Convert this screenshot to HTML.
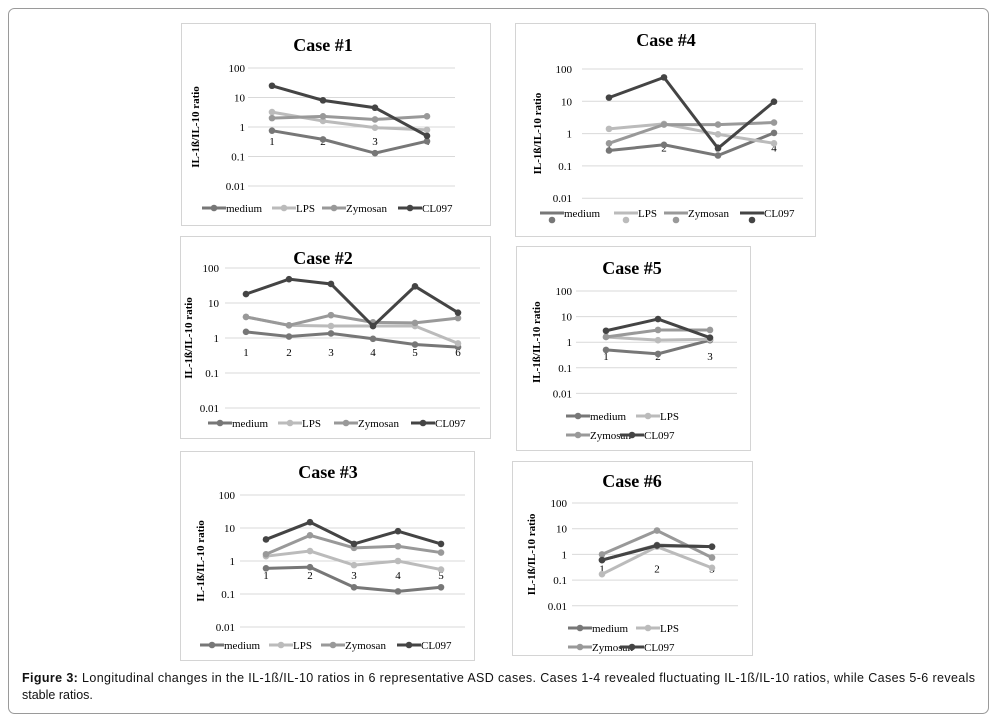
<!DOCTYPE html>
<html><head><meta charset="utf-8"><style>
body{margin:0;background:#fff;width:999px;height:721px;overflow:hidden}
svg{position:absolute;left:0;top:0}
</style></head><body>
<svg id="s" width="999" height="721" xmlns="http://www.w3.org/2000/svg">
<rect x="8.5" y="8.5" width="980" height="705" rx="6" fill="#fff" stroke="#9a9a9a"/>
<text x="22" y="682" textLength="953" lengthAdjust="spacing" font-family="Liberation Sans, sans-serif" font-size="12.5" fill="#111"><tspan font-weight="bold">Figure 3:</tspan> Longitudinal changes in the IL-1ß/IL-10 ratios in 6 representative ASD cases.  Cases 1-4 revealed fluctuating IL-1ß/IL-10 ratios, while Cases 5-6 reveals</text>
<text x="22" y="699" font-family="Liberation Sans, sans-serif" font-size="12.5" fill="#111">stable ratios.</text>
</svg>
<script>
const s=document.getElementById('s');const NS='http://www.w3.org/2000/svg';
function el(t,a,txt){const e=document.createElementNS(NS,t);for(const k in a)e.setAttribute(k,a[k]);if(txt!==undefined)e.textContent=txt;s.appendChild(e);return e;}
const col=['#777','#bbb','#999','#444'];const names=['medium','LPS','Zymosan','CL097'];
const F='Liberation Serif, serif';
function chart(c){
 el('rect',{x:c.bx+.5,y:c.by+.5,width:c.bw,height:c.bh,fill:'#fff',stroke:'#d4d4d4'});
 el('text',{x:c.tx,y:c.ty,'text-anchor':'middle','font-family':F,'font-size':18,'font-weight':'bold'},c.title);
 const labs=['100','10','1','0.1','0.01'];
 for(let i=0;i<5;i++){const y=c.y100+i*c.dy;
  el('line',{x1:c.gx1,x2:c.gx2,y1:y,y2:y,stroke:'#d9d9d9','stroke-width':1});
  el('text',{x:c.lx,y:y+4,'text-anchor':'end','font-family':F,'font-size':11},labs[i]);}
 const y1=c.y100+2*c.dy;
 el('text',{transform:`translate(${c.ax},${y1}) rotate(-90)`,'text-anchor':'middle','font-family':F,'font-size':11,'font-weight':'bold'},'IL-1ß/IL-10 ratio');
 c.xs.forEach((x,i)=>el('text',{x:x,y:y1+18,'text-anchor':'middle','font-family':F,'font-size':11},String(i+1)));
 const Y=v=>y1-Math.log10(v)*c.dy;
 c.d.forEach((arr,k)=>{
  el('polyline',{points:arr.map((v,i)=>c.xs[i]+','+Y(v)).join(' '),fill:'none',stroke:col[k],'stroke-width':3});
  arr.forEach((v,i)=>el('circle',{cx:c.xs[i],cy:Y(v),r:3.3,fill:col[k]}));
 });
 c.leg.forEach((p,k)=>{
  el('line',{x1:p[0],x2:p[0]+24,y1:p[1],y2:p[1],stroke:col[k],'stroke-width':3});
  el('circle',{cx:p[0]+12,cy:p[1]+(c.dotOff||0),r:3.3,fill:col[k]});
  el('text',{x:p[0]+24,y:p[1]+4,'font-family':F,'font-size':11},names[k]);
 });
}
chart({bx:181,by:23,bw:309,bh:202,title:'Case #1',tx:323,ty:51,y100:68,dy:29.5,gx1:248,gx2:455,lx:245,ax:199,
 xs:[272,323,375,427],d:[[0.75,0.38,0.13,0.33],[3.2,1.6,0.95,0.8],[2,2.3,1.8,2.3],[25,8,4.5,0.5]],
 leg:[[202,208],[272,208],[322,208],[398,208]]});
chart({bx:515,by:23,bw:300,bh:213,title:'Case #4',tx:666,ty:46,y100:69,dy:32.3,gx1:582,gx2:803,lx:572,ax:541,
 xs:[609,664,718,774],d:[[0.3,0.45,0.21,1.05],[1.4,2,0.95,0.5],[0.5,1.9,1.9,2.2],[13,55,0.35,9.7]],
 leg:[[540,213],[614,213],[664,213],[740,213]],dotOff:7});
chart({bx:180,by:236,bw:310,bh:202,title:'Case #2',tx:323,ty:264,y100:268,dy:35,gx1:225,gx2:480,lx:219,ax:192,
 xs:[246,289,331,373,415,458],d:[[1.5,1.1,1.35,0.95,0.65,0.55],[4,2.3,2.2,2.2,2.2,0.7],[4,2.3,4.5,2.8,2.7,3.7],[18,48,35,2.2,30,5.3]],
 leg:[[208,423],[278,423],[334,423],[411,423]]});
chart({bx:180,by:451,bw:294,bh:209,title:'Case #3',tx:328,ty:478,y100:495,dy:33,gx1:240,gx2:465,lx:235,ax:204,
 xs:[266,310,354,398,441],d:[[0.6,0.65,0.16,0.12,0.16],[1.4,2,0.75,1,0.55],[1.6,6,2.5,2.8,1.8],[4.5,15,3.3,8,3.3]],
 leg:[[200,645],[269,645],[321,645],[397,645]]});
chart({bx:516,by:246,bw:234,bh:204,title:'Case #5',tx:632,ty:274,y100:291,dy:25.6,gx1:576,gx2:737,lx:572,ax:540,
 xs:[606,658,710],d:[[0.5,0.35,1.2],[1.6,1.2,1.3],[1.6,3,3],[2.8,8,1.5]],
 leg:[[566,416],[636,416],[566,435],[620,435]]});
chart({bx:512,by:461,bw:240,bh:194,title:'Case #6',tx:632,ty:487,y100:503,dy:25.7,gx1:572,gx2:738,lx:567,ax:535,
 xs:[602,657,712],d:[[0.6,2.3,2],[0.17,2,0.3],[1,8.5,0.75],[0.6,2.2,2]],
 leg:[[568,628],[636,628],[568,647],[620,647]]});
</script>
</body></html>
